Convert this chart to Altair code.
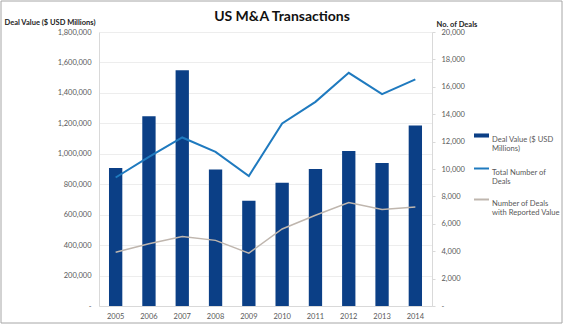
import altair as alt
import pandas as pd

years = ["2005", "2006", "2007", "2008", "2009", "2010", "2011", "2012", "2013", "2014"]
deal_value = [906000, 1247000, 1549000, 896000, 692000, 810000, 900000, 1018000, 940000, 1185000]
total_deals = [9380, 10880, 12300, 11250, 9490, 13320, 14900, 17020, 15470, 16540]
reported_deals = [3930, 4550, 5080, 4790, 3860, 5620, 6620, 7550, 7040, 7230]

chart_title = "US M&A Transactions"
bar_name = "Deal Value ($ USD Millions)"
line_names = ["Total Number of Deals", "Number of Deals with Reported Value"]
legend_lines = {
    "Deal Value ($ USD Millions)": ["Deal Value ($ USD", "Millions)"],
    "Total Number of Deals": ["Total Number of", "Deals"],
    "Number of Deals with Reported Value": ["Number of Deals", "with Reported Value"],
}

FONT = "Lato"
TXT = "#595959"
AXIS = "#D9D9D9"
GRID = "#EDEDED"
BAR_C = "#0B3F86"
LINE_C = ["#1F7ABF", "#BFB6AE"]

bars_df = pd.DataFrame({"year": years, "value": deal_value, "series": bar_name})
lines_df = pd.concat([
    pd.DataFrame({"year": years, "deals": total_deals, "series": line_names[0]}),
    pd.DataFrame({"year": years, "deals": reported_deals, "series": line_names[1]}),
])


def label_expr():
    parts = []
    for k, v in legend_lines.items():
        arr = "[" + ",".join("'" + s + "'" for s in v) + "]"
        parts.append(f"datum.label == '{k}' ? {arr} : ")
    return "".join(parts) + "datum.label"


x_enc = alt.X(
    "year:N",
    sort=years,
    scale=alt.Scale(paddingInner=0.6, paddingOuter=0.3),
    axis=alt.Axis(
        title=None, labelAngle=0, ticks=False, tickSize=0, labelPadding=6,
        domainColor=AXIS, labelFont=FONT, labelFontSize=7.5, labelColor=TXT,
    ),
)

bars = alt.Chart(bars_df).mark_bar(color=BAR_C).encode(
    x=x_enc,
    y=alt.Y(
        "value:Q",
        scale=alt.Scale(domain=[0, 1800000], nice=False),
        axis=alt.Axis(
            title=bar_name, titleAngle=0, titleX=-95, titleY=-8, titleAlign="left",
            titleBaseline="alphabetic", titleFont=FONT, titleFontSize=7.5,
            titleFontWeight="bold", titleColor="#222222",
            values=list(range(0, 1800001, 200000)),
            labelExpr="datum.value == 0 ? '-' : format(datum.value, ',')",
            ticks=False, tickSize=0, labelPadding=8, domainColor=AXIS,
            gridColor=GRID, labelFont=FONT, labelFontSize=7.5, labelColor=TXT,
        ),
    ),
    fill=alt.Fill(
        "series:N",
        scale=alt.Scale(domain=[bar_name], range=[BAR_C]),
        legend=alt.Legend(
            title=None, orient="none", legendX=374, legendY=95,
            symbolType="M-1,-0.27H1V0.27H-1Z", symbolSize=225,
            labelExpr=label_expr(), labelFont=FONT, labelFontSize=7.6,
            labelColor=TXT, labelOffset=2, labelBaseline="top", labelLimit=200,
        ),
    ),
)

lines = alt.Chart(lines_df).mark_line().encode(
    x=x_enc,
    y=alt.Y(
        "deals:Q",
        scale=alt.Scale(domain=[0, 20000], nice=False),
        axis=alt.Axis(
            orient="right", title="No. of Deals", titleAngle=0, titleX=4, titleY=-6,
            titleAlign="left", titleBaseline="alphabetic", titleFont=FONT,
            titleFontSize=7.5, titleFontWeight="bold", titleColor="#222222",
            values=list(range(0, 20001, 2000)),
            labelExpr="datum.value == 0 ? '-' : format(datum.value, ',')",
            grid=False, tickSize=3, tickColor=AXIS, labelPadding=6,
            domainColor=AXIS, labelFont=FONT, labelFontSize=7.5, labelColor=TXT,
        ),
    ),
    stroke=alt.Stroke(
        "series:N",
        scale=alt.Scale(domain=line_names, range=LINE_C),
        legend=alt.Legend(
            title=None, orient="none", legendX=374, legendY=128,
            symbolType="stroke", symbolSize=225, symbolStrokeWidth=2,
            rowPadding=5, labelExpr=label_expr(), labelFont=FONT,
            labelFontSize=7.6, labelColor=TXT, labelOffset=2,
            labelBaseline="top", labelLimit=200,
        ),
    ),
    strokeWidth=alt.StrokeWidth(
        "series:N",
        scale=alt.Scale(domain=line_names, range=[2, 1.5]),
        legend=None,
    ),
)

border = alt.Chart(pd.DataFrame({"a": [0]})).mark_rect(
    fill=None, stroke="#A6A6A6", strokeWidth=1, clip=False
).encode(
    x=alt.value(-98), x2=alt.value(463), y=alt.value(-31), y2=alt.value(291)
)

title_mark = alt.Chart(pd.DataFrame({"t": [chart_title]})).mark_text(
    font=FONT, fontSize=14, fontWeight="bold", color="#111111",
    align="center", baseline="alphabetic", clip=False,
).encode(text="t:N", x=alt.value(183), y=alt.value(-11))

chart = alt.layer(bars, lines, border, title_mark).resolve_scale(
    y="independent", fill="independent", stroke="independent"
).properties(
    width=333,
    height=274,
    padding={"left": 99, "top": 32, "right": 140, "bottom": 24},
    autosize=alt.AutoSizeParams(type="none"),
    background="white",
).configure_view(stroke=None)

chart.save("out.html", embed_options={"renderer": "svg", "actions": False})
